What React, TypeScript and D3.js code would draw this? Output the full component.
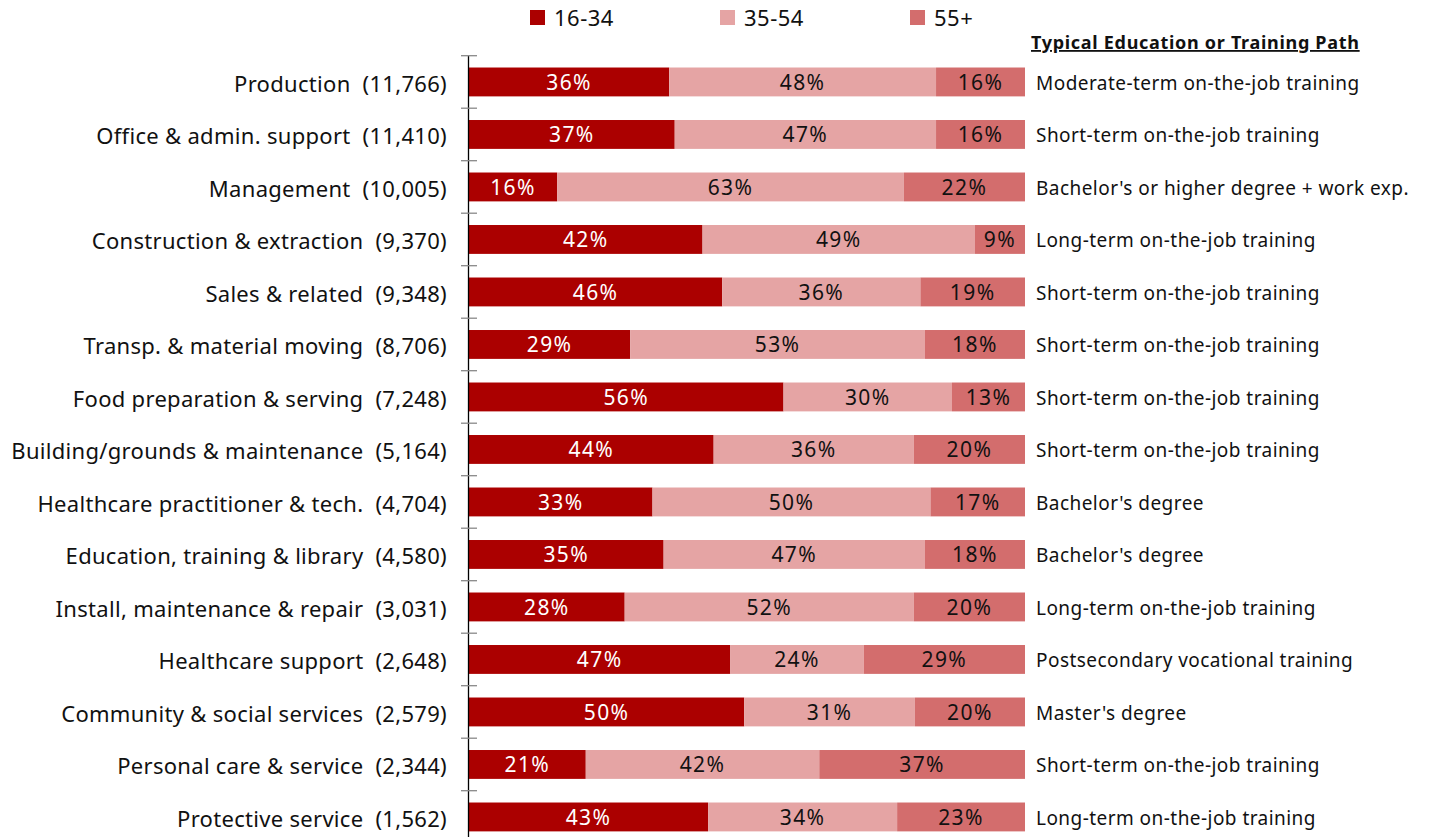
import React from "react";
import * as d3 from "d3";

const categories = [
  "Production",
  "Office & admin. support",
  "Management",
  "Construction & extraction",
  "Sales & related",
  "Transp. & material moving",
  "Food preparation & serving",
  "Building/grounds & maintenance",
  "Healthcare practitioner & tech.",
  "Education, training & library",
  "Install, maintenance & repair",
  "Healthcare support",
  "Community & social services",
  "Personal care & service",
  "Protective service",
];
const counts = ["11,766", "11,410", "10,005", "9,370", "9,348", "8,706", "7,248", "5,164", "4,704", "4,580", "3,031", "2,648", "2,579", "2,344", "1,562"];
const age16to34 = [36, 37, 16, 42, 46, 29, 56, 44, 33, 35, 28, 47, 50, 21, 43];
const age35to54 = [48, 47, 63, 49, 36, 53, 30, 36, 50, 47, 52, 24, 31, 42, 34];
const age55plus = [16, 16, 22, 9, 19, 18, 13, 20, 17, 18, 20, 29, 20, 37, 23];
const trainingPaths = [
  "Moderate-term on-the-job training",
  "Short-term on-the-job training",
  "Bachelor's or higher degree + work exp.",
  "Long-term on-the-job training",
  "Short-term on-the-job training",
  "Short-term on-the-job training",
  "Short-term on-the-job training",
  "Short-term on-the-job training",
  "Bachelor's degree",
  "Bachelor's degree",
  "Long-term on-the-job training",
  "Postsecondary vocational training",
  "Master's degree",
  "Short-term on-the-job training",
  "Long-term on-the-job training",
];
const seriesKeys = ["16-34", "35-54", "55+"];
const seriesColors = ["#AB0000", "#E5A4A4", "#D36D6D"];
const labelColors = ["#FFFFFF", "#111111", "#111111"];
const headerText = "Typical Education or Training Path";

const W = 1434;
const H = 837;
const FONT = "'Noto Sans', 'DejaVu Sans', sans-serif";

export default function App() {
  const rows = categories.map((c, i) => ({
    cat: c,
    "16-34": age16to34[i],
    "35-54": age35to54[i],
    "55+": age55plus[i],
  }));
  const stack = d3.stack<any>().keys(seriesKeys).offset(d3.stackOffsetExpand);
  const stacked = stack(rows);

  const plotLeft = 469;
  const plotRight = 1025;
  const plotTop = 55.7;
  const band = 52.5;
  const x = d3.scaleLinear().domain([0, 1]).range([plotLeft, plotRight]);
  const y = d3
    .scaleBand<string>()
    .domain(categories)
    .range([plotTop, plotTop + band * categories.length])
    .paddingInner(0.45)
    .paddingOuter(0.225);

  return (
    <svg
      width={W}
      height={H}
      style={{ position: "absolute", left: 0, top: 0, display: "block" }}
      fontFamily={FONT}
    >
      <rect x={0} y={0} width={W} height={H} fill="#fff" />
      {/* legend */}
      {seriesKeys.map((k, i) => (
        <g key={k} transform={`translate(${530 + i * 190},10)`}>
          <rect x={0} y={0} width={15} height={15} fill={seriesColors[i]} />
          <text x={24} y={16} fontSize={22} letterSpacing={0.5} fill="#111">
            {k}
          </text>
        </g>
      ))}
      {/* header */}
      <text
        x={1031}
        y={49}
        fontSize={18}
        fontWeight="bold"
        letterSpacing={0.7}
        fill="#111"
        textDecoration="underline"
      >
        {headerText}
      </text>
      {/* bars */}
      {stacked.map((s, si) =>
        s.map((d, i) => {
          const x0 = x(d[0]);
          const x1 = x(d[1]);
          const yy = y(categories[i])!;
          const vals = [age16to34, age35to54, age55plus][si];
          return (
            <g key={`${si}-${i}`}>
              <rect x={x0} y={yy} width={x1 - x0} height={y.bandwidth()} fill={seriesColors[si]} />
              <text
                x={(x0 + x1) / 2}
                y={yy + y.bandwidth() / 2}
                textAnchor="middle"
                dominantBaseline="central"
                fontSize={21}
                letterSpacing={1.4}
                fill={labelColors[si]}
              >
                {vals[i]}%
              </text>
            </g>
          );
        })
      )}
      {/* axis */}
      <line x1={468.5} x2={468.5} y1={plotTop} y2={H + 10} stroke="#000" strokeWidth={1.3} />
      {d3.range(categories.length + 1).map((i) => (
        <line
          key={i}
          x1={461}
          x2={477}
          y1={plotTop + i * band}
          y2={plotTop + i * band}
          stroke="#888"
          strokeWidth={1.3}
        />
      ))}
      {/* category labels */}
      {categories.map((c, i) => (
        <text
          key={c}
          x={447}
          y={y(c)! + y.bandwidth() / 2 + 1}
          textAnchor="end"
          dominantBaseline="central"
          fontSize={22}
          letterSpacing={0.3}
          fill="#111"
        >
          {c + "\u00a0\u00a0(" + counts[i] + ")"}
        </text>
      ))}
      {/* training paths */}
      {trainingPaths.map((t, i) => (
        <text
          key={i}
          x={1036}
          y={y(categories[i])! + y.bandwidth() / 2 + 1}
          dominantBaseline="central"
          fontSize={19}
          letterSpacing={0.45}
          fill="#111"
        >
          {t}
        </text>
      ))}
    </svg>
  );
}
